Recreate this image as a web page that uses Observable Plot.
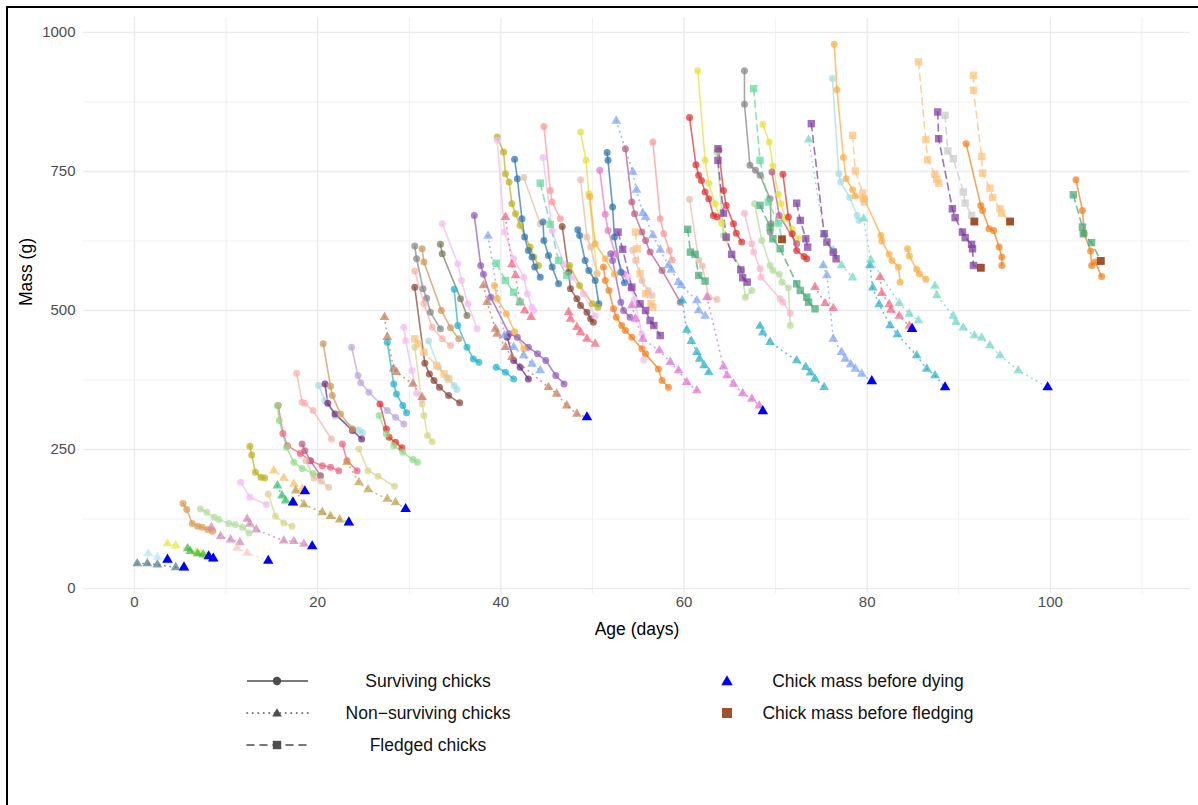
<!DOCTYPE html>
<html>
<head>
<meta charset="utf-8">
<script src="https://cdn.jsdelivr.net/npm/d3@7"></script>
<script src="https://cdn.jsdelivr.net/npm/@observablehq/plot@0.6"></script>
<style>
  html, body { margin: 0; padding: 0; background: #fff; overflow: hidden; }
  body { font-family: "Liberation Sans", Arial, Helvetica, sans-serif; width: 1198px; height: 805px; position: relative; }
  #frame { position: absolute; left: 6px; top: 6px; width: 1400px; height: 1000px; border-left: 2px solid #000; border-top: 2px solid #000; pointer-events: none; }
  #chart { position: absolute; left: 0; top: 0; }
  .key { position: absolute; }
  .label { position: absolute; width: 240px; text-align: center; font-size: 17.5px; line-height: 20px; color: #111; white-space: nowrap; }
</style>
</head>
<body>
<div id="chart"></div>
<div id="legend"></div>
<div id="frame"></div>
<script>
// Fasting bouts of each chick: [chick, [[age (days), mass (g)], ...]]
const survivingBouts = [
  ["sandy", [[5.3,153],[5.7,142],[6.3,117],[6.9,112],[7.4,110],[8.0,106],[8.5,103]]],
  ["paleGreen", [[7.2,143],[7.9,137],[8.7,128],[9.2,124],[10.3,117],[11.0,115],[11.8,110],[12.5,100]]],
  ["orchidPale", [[11.6,191],[12.6,164],[14.4,151]]],
  ["olive", [[12.6,256],[12.8,240],[13.2,209],[13.8,200],[14.2,199]]],
  ["khaki", [[14.6,170],[15.4,130],[16.3,118],[17.2,112]]],
  ["hotPink", [[15.7,329],[16.2,279],[16.7,257],[18.1,243],[19.2,230],[20.5,221],[21.4,218],[22.3,212]]],
  ["lightGreen", [[15.6,329],[15.8,302],[16.6,254],[17.4,227],[18.3,216],[19.5,207],[20.3,203]]],
  ["salmonPale", [[17.7,387],[18.3,335],[18.6,333],[19.5,320],[21.5,269]]],
  ["mauve", [[18.3,260],[18.6,248],[19.2,230],[20.3,203]]],
  ["beige", [[18.7,230],[19.6,199],[20.4,193],[21.2,182]]],
  ["lightCyan", [[20.1,365],[20.8,338],[21.9,310],[24.5,285],[24.9,280]]],
  ["darkPurple", [[20.8,368],[21.1,333],[21.9,314],[23.8,284],[24.8,269]]],
  ["tan", [[20.6,440],[21.4,364],[21.6,347],[22.5,314],[23.8,287]]],
  ["hotPink", [[22.7,260],[23.2,230],[24.3,212]]],
  ["lavender", [[23.7,434],[24.4,383],[24.7,370],[25.6,353],[27.6,320],[28.5,308],[29.4,296]]],
  ["khaki", [[24.5,251],[25.5,212],[26.6,202],[28.4,184]]],
  ["red", [[26.8,332],[27.5,287],[27.8,272],[28.5,263],[29.2,253]]],
  ["lightGreen", [[26.7,311],[27.5,278],[28.3,257],[29.3,245],[30.4,232],[30.9,227]]],
  ["cyan", [[27.6,443],[28.3,368],[28.6,350],[29.3,329],[29.7,316]]],
  ["orchidPale", [[29.4,470],[29.6,446],[30.3,392],[30.8,351],[31.4,340]]],
  ["khaki", [[30.6,434],[31.4,332],[31.6,311],[32.0,275],[32.5,264]]],
  ["brown", [[30.6,542],[31.7,405],[32.2,386],[32.7,374],[33.3,362],[34.3,347],[35.5,334]]],
  ["gray", [[30.6,616],[30.8,593],[31.5,539],[31.9,522],[32.3,497],[33.4,467]]],
  ["tan", [[31.4,611],[31.6,587],[33.5,500],[34.5,469],[35.4,449]]],
  ["salmonPale", [[30.6,571],[31.6,512],[32.5,470],[33.6,449],[34.5,437]]],
  ["lightCyan", [[32.1,445],[33.2,398],[34.1,380],[34.9,365],[35.2,358]]],
  ["oliveGray", [[33.4,619],[33.6,602],[35.6,521],[36.3,491]]],
  ["orchidPale", [[33.6,656],[35.3,584],[35.7,554],[36.4,512],[37.4,467]]],
  ["cyan", [[34.9,538],[35.3,473],[36.3,434],[37.0,413],[37.6,407]]],
  ["purple", [[37.1,671],[37.8,581],[38.1,565],[38.9,524],[40.9,458],[41.8,452],[43.0,434],[44.0,422],[44.9,410],[46.0,383],[46.9,368]]],
  ["cyan", [[39.5,398],[40.5,389],[41.4,377]]],
  ["darkPurple", [[40.7,452],[41.4,410],[42.1,398],[43.0,377]]],
  ["orange", [[39.3,545],[39.6,521],[40.6,494],[41.5,462],[42.5,431]]],
  ["olive", [[39.6,812],[40.3,785],[40.5,746],[40.9,731],[41.2,692],[41.6,674],[42.1,653],[43.2,614],[43.6,596],[44.1,581]]],
  ["steelBlue", [[41.5,772],[41.8,737],[42.3,665],[42.6,632],[43.0,608],[43.4,596],[43.7,578],[44.3,560]]],
  ["orchidPale", [[39.6,806],[40.4,641],[41.4,593],[42.5,560],[42.9,530],[43.4,506],[43.6,500]]],
  ["beige", [[42.5,739],[44.3,656]]],
  ["steelBlue", [[44.6,659],[44.7,626],[45.2,599],[45.6,578],[46.3,548]]],
  ["brown", [[46.7,651],[47.4,569],[47.6,539],[48.3,521],[48.7,509],[49.4,497],[49.8,485],[50.1,479]]],
  ["salmon", [[44.7,831],[45.4,716],[45.6,695],[46.5,665]]],
  ["orchidPale", [[44.6,775],[45.6,644],[46.9,583],[47.8,560],[49.0,530],[50.3,490]]],
  ["yellow", [[48.7,821],[49.3,770],[49.6,710],[50.5,566]]],
  ["beige", [[48.7,735],[49.4,632],[49.8,614],[50.5,566]]],
  ["steelBlue", [[48.4,645],[48.6,635],[49.2,590],[49.6,572],[50.3,554],[50.7,512]]],
  ["olive", [[47.5,581],[48.6,545],[50.0,512],[50.6,506]]],
  ["darkOrange", [[51.2,578],[51.4,554],[51.8,536],[52.3,503],[52.6,488],[53.2,473],[53.6,464],[54.3,452],[55.4,431],[55.8,422],[57.2,395],[57.6,374],[58.3,362]]],
  ["orange", [[49.7,705],[50.3,620],[51.4,593],[52.4,565]]],
  ["orchid", [[50.8,752],[51.4,673],[51.7,644],[52.5,602],[53.4,566],[54.2,540]]],
  ["orchidPale", [[53.9,560],[54.6,520],[55.4,458],[55.6,411]]],
  ["steelBlue", [[51.6,784],[51.7,770],[52.2,686],[52.4,632],[53.1,569],[53.5,550]]],
  ["purple", [[52.0,602],[52.2,590],[53.1,515],[53.4,500],[54.1,488]]],
  ["beige", [[54.4,609],[54.7,590],[55.4,554],[56.1,536],[56.5,527]]],
  ["mauve", [[53.6,791],[54.3,695],[54.6,674],[55.4,641],[55.8,626],[56.3,605],[57.6,572],[59.6,515]]],
  ["salmon", [[56.6,803],[57.4,665],[57.8,638],[58.4,608],[58.7,591]]],
  ["beige", [[60.6,700],[61.6,591],[62.0,580],[62.7,524],[63.6,520]]],
  ["red", [[60.6,847],[61.3,762],[61.6,743],[61.9,734],[62.3,713],[62.7,701],[63.2,671],[63.6,668]]],
  ["yellow", [[61.5,931],[62.3,770],[62.7,729],[63.4,692],[64.1,657],[64.6,629]]],
  ["red", [[63.8,788],[64.3,716],[64.6,689],[65.4,656],[65.7,639],[66.3,623]]],
  ["paleGreen", [[63.6,785],[64.3,635],[66.3,572],[66.7,524],[67.4,536]]],
  ["gray", [[66.6,931],[66.6,871],[67.2,761],[67.8,752],[68.3,743],[69.4,701],[69.5,656],[69.4,641]]],
  ["pink", [[66.6,675],[67.4,620],[67.6,605],[68.3,575],[68.4,560],[70.5,521],[70.8,515],[71.6,495]]],
  ["paleGreen", [[67.7,692],[68.5,626],[69.4,581],[69.7,572],[70.4,565],[70.7,551],[71.4,541],[71.6,473]]],
  ["yellow", [[68.6,835],[69.3,803],[69.7,760],[70.3,709],[70.6,692],[71.1,665],[71.8,646],[72.5,629]]],
  ["red", [[70.8,745],[71.4,668],[71.8,638],[72.3,608],[73.1,597],[73.4,593]]],
  ["mauve", [[69.6,749],[70.4,671],[72.3,620]]],
  ["lightCyan", [[76.2,917],[76.9,746],[77.1,731],[78.1,703],[78.9,671],[79.1,662]]],
  ["orange", [[76.4,979],[76.7,897],[77.4,775],[77.7,737],[78.4,717],[78.7,706],[79.7,700],[81.5,635],[81.6,625],[82.4,601],[82.7,590],[83.4,578],[83.6,551]]],
  ["orange", [[84.4,611],[84.6,598],[85.4,574],[85.7,566],[86.4,556]]],
  ["darkOrange", [[90.8,800],[92.4,689],[92.6,680],[93.3,647],[93.8,644],[94.4,614],[94.7,596],[94.7,581]]],
  ["darkOrange", [[102.8,735],[103.5,680],[103.7,638],[104.4,607],[104.5,581],[104.9,587],[105.6,561]]]
];

const nonSurvivingBouts = [
  ["slate", [[0.3,45],[1.4,45],[2.5,43],[4.5,38],[5.4,38]]],
  ["iceBlue", [[1.5,63],[2.5,56],[3.6,52]]],
  ["lemon", [[3.6,81],[4.5,77],[6.7,65],[7.2,63],[7.9,59],[8.1,58]]],
  ["lime", [[5.8,72],[6.1,67],[6.9,63],[7.5,61],[8.6,54]]],
  ["rose", [[8.4,110],[9.4,94],[10.5,88],[11.5,83]]],
  ["rose", [[12.3,125],[12.6,116],[13.3,106],[16.3,86],[17.4,85],[18.5,80],[19.4,76]]],
  ["mistyRose", [[11.2,73],[12.3,64],[14.6,50]]],
  ["apricot", [[15.2,212],[16.3,199],[17.4,188],[18.3,179],[18.6,175]]],
  ["jade", [[15.6,185],[16.1,167],[16.5,158],[17.3,155]]],
  ["ochre", [[17.6,176],[18.5,151],[20.5,137],[21.4,130],[22.4,124],[23.4,119]]],
  ["gold", [[23.2,227],[24.5,191],[25.5,178],[27.6,161],[28.5,155],[29.6,143]]],
  ["sienna", [[27.3,488],[27.6,452],[28.3,395],[28.6,389],[30.4,368],[31.4,344]]],
  ["sienna", [[38.1,545],[38.5,515],[39.4,467],[39.6,458],[40.5,434],[41.2,416],[45.2,362],[46.1,350],[47.2,329],[48.3,314],[49.4,308]]],
  ["cornflower", [[38.6,634],[40.4,455],[41.4,434],[42.5,419],[43.4,404],[44.3,392]]],
  ["cornflower", [[52.6,841],[54.4,749],[54.8,717],[55.5,675],[55.8,668],[56.6,635],[57.4,609],[58.3,581],[58.6,573],[59.4,551],[59.7,545],[61.4,518],[61.6,500],[62.3,490]]],
  ["cornflower", [[75.2,581],[75.6,563],[76.3,449],[77.2,425],[77.6,413],[78.2,403],[78.7,395],[79.4,386],[80.5,373]]],
  ["redPink", [[40.5,668],[41.2,583],[41.6,563],[42.1,515],[42.6,500],[43.3,488]]],
  ["redPink", [[47.4,497],[47.6,485],[48.3,470],[48.7,461],[49.4,449],[50.3,440]]],
  ["redPink", [[74.3,542],[75.4,513],[76.3,504]]],
  ["redPink", [[81.4,560],[81.6,531],[82.4,511],[82.6,501],[83.5,490],[84.6,472],[84.9,467]]],
  ["magenta", [[54.3,509],[54.7,485],[55.5,449],[57.3,428],[58.5,407],[59.4,392],[60.3,371],[61.4,356]]],
  ["magenta", [[62.5,524],[64.3,399],[64.7,383],[65.4,368],[66.4,351],[67.4,341],[68.2,329],[68.6,319]]],
  ["teal", [[59.8,518],[60.3,465],[60.8,445],[61.4,425],[61.7,413],[62.2,401],[62.7,389]]],
  ["teal", [[68.3,472],[68.6,460],[69.4,443],[72.3,410],[73.3,398],[73.8,388],[74.3,377],[75.3,362]]],
  ["teal", [[80.3,581],[80.6,541],[81.3,511],[82.5,473],[83.3,457],[85.4,419],[86.5,395],[87.4,383],[88.5,362]]],
  ["aqua", [[73.6,807],[75.3,637],[76.3,608],[77.2,581],[78.4,559]]],
  ["aqua", [[79.6,665],[80.4,591],[83.5,513],[84.6,494],[85.6,482]]],
  ["aqua", [[87.4,544],[87.6,527],[89.4,490],[89.7,479],[90.5,469],[91.7,455],[92.5,451],[93.4,437],[94.5,419],[96.5,392],[99.7,362]]]
];

const fledgedBouts = [
  ["apricotSq", [[30.6,449],[31.0,440],[31.6,425],[33.0,401],[33.8,386],[34.3,377]]],
  ["apricotSq", [[54.7,641],[54.9,611],[55.2,566],[55.8,530],[56.4,512],[56.6,506]]],
  ["apricotSq", [[78.4,815],[78.7,751],[79.5,711],[79.6,701],[79.7,695]]],
  ["apricotSq", [[85.6,947],[86.4,807],[86.6,771],[87.4,745],[87.6,736],[87.8,729]]],
  ["apricotSq", [[91.6,923],[91.6,896],[92.5,777],[92.6,747],[93.4,720],[93.7,703],[94.5,683],[94.7,675],[95.6,660]]],
  ["mint", [[39.5,585],[40.5,554],[41.4,533],[42.1,515]]],
  ["mint", [[44.3,729],[45.4,655],[46.3,590],[47.2,563]]],
  ["mint", [[67.6,899],[68.3,770],[69.2,695],[70.3,657],[70.7,628]]],
  ["seaGreen", [[60.4,646],[60.7,605],[61.2,601],[61.6,563],[62.3,553]]],
  ["seaGreen", [[68.3,689],[69.4,650],[69.7,629],[70.5,611],[72.3,548],[72.7,536],[73.4,524],[73.6,515],[74.3,503]]],
  ["seaGreen", [[102.5,708],[103.5,650],[103.6,638],[104.5,622],[105.5,589]]],
  ["purpleSq", [[52.8,641],[53.3,610],[54.3,542],[55.2,512],[55.8,500],[56.3,482],[56.7,473],[57.4,455]]],
  ["purpleSq", [[63.7,791],[63.7,770],[64.3,675],[64.6,632],[65.2,601],[66.2,573],[66.4,559],[66.9,551]]],
  ["purpleSq", [[72.3,693],[72.7,662],[73.3,629],[73.5,614]]],
  ["purpleSq", [[73.9,836],[75.3,638],[75.6,623],[76.3,605],[76.6,593]]],
  ["purpleSq", [[87.7,857],[87.8,809],[89.3,683],[89.6,667],[90.4,641],[90.7,631],[91.4,619],[91.5,611],[91.6,581],[92.4,577]]],
  ["silver", [[88.5,851],[88.8,787],[89.4,773],[90.5,713],[90.7,693],[91.4,671],[91.7,660]]]
];

// Axis ticks and grid positions
const ageTicks = [0, 20, 40, 60, 80, 100];
const ageMinorGrid = [10, 30, 50, 70, 90, 110];
const massTicks = [0, 250, 500, 750, 1000];
const massMinorGrid = [125, 375, 625, 875];

// One colour per chick
const chickColors = {
  sandy: "#d99a55", paleGreen: "#b3dc9c", orchidPale: "#efbdf0", olive: "#bdb220",
  khaki: "#d6d68a", hotPink: "#f3607d", lightGreen: "#8fdc88", salmonPale: "#f5b2aa",
  mauve: "#b85c88", beige: "#e6bcaa", lightCyan: "#a6dbe6", darkPurple: "#6e2a7a",
  tan: "#c9995a", lavender: "#bda6d8", red: "#de3030", cyan: "#1fb3cc", brown: "#874434",
  gray: "#858585", oliveGray: "#77775a", purple: "#8f5cb8", orange: "#f8ae45",
  steelBlue: "#2c73b0", salmon: "#f89a96", yellow: "#e4e03c", darkOrange: "#f2801c",
  orchid: "#e07cc8", pink: "#f6b4cc",
  slate: "#4f7c85", iceBlue: "#b4e6f8", lemon: "#e6e64a", lime: "#3cb83c", rose: "#d088b4",
  mistyRose: "#f2cac4", apricot: "#f9bf6a", jade: "#2fc068", ochre: "#b8983e", gold: "#bba24a",
  sienna: "#c27a5a", cornflower: "#7ca4f2", redPink: "#f3647e", magenta: "#df70d2",
  teal: "#27aec6", aqua: "#70d8c4",
  apricotSq: "#fbc07c", mint: "#5fd89a", seaGreen: "#43a873", purpleSq: "#7d3c9e", silver: "#c9c9c9"
};

function toRows(bouts, fate) {
  const rows = [];
  bouts.forEach(([chick, pts], i) => {
    for (const [age, mass] of pts) rows.push({fate, chick, bout: fate + i, age, mass});
  });
  return rows;
}

// Last weighing of each chick (latest age over all its bouts)
function lastWeighings(bouts) {
  const last = new Map();
  for (const [chick, pts] of bouts) {
    for (const [age, mass] of pts) {
      const cur = last.get(chick);
      if (!cur || age >= cur.age) last.set(chick, {chick, age, mass});
    }
  }
  return [...last.values()];
}

const survRows = toRows(survivingBouts, "S");
const deadRows = toRows(nonSurvivingBouts, "N");
const fledRows = toRows(fledgedBouts, "F");
const beforeDying = lastWeighings(nonSurvivingBouts);
const beforeFledging = lastWeighings(fledgedBouts);

const col = d => chickColors[d.chick];
const alpha = 0.72;

const chart = Plot.plot({
  width: 1198,
  height: 650,
  marginLeft: 83,
  marginRight: 8,
  marginTop: 17.5,
  marginBottom: 56.4,
  x: {domain: [-5.57, 115.3], axis: null},
  y: {domain: [-10, 1026], axis: null},
  color: {type: "identity"},
  style: {fontFamily: "'Liberation Sans', Arial, Helvetica, sans-serif", background: "transparent", overflow: "visible"},
  marks: [
    Plot.ruleX(ageMinorGrid, {stroke: "#eeeeee", strokeWidth: 0.9}),
    Plot.ruleY(massMinorGrid, {stroke: "#eeeeee", strokeWidth: 0.9}),
    Plot.ruleX(ageTicks, {stroke: "#ebebeb", strokeWidth: 1.3}),
    Plot.ruleY(massTicks, {stroke: "#ebebeb", strokeWidth: 1.3}),

    Plot.text(ageTicks, {x: d => d, frameAnchor: "bottom", dy: 13, text: d => String(d), fontSize: 15, fill: "#4d4d4d"}),
    Plot.text(massTicks, {y: d => d, frameAnchor: "left", dx: -8, textAnchor: "end", text: d => String(d), fontSize: 15, fill: "#4d4d4d"}),
    Plot.text(["Age (days)"], {frameAnchor: "bottom", dy: 41, text: d => d, fontSize: 17.5, fill: "#000"}),
    Plot.text(["Mass (g)"], {frameAnchor: "left", dx: -57, rotate: -90, text: d => d, fontSize: 17.5, fill: "#000"}),

    Plot.line(survRows, {x: "age", y: "mass", z: "bout", stroke: col, strokeWidth: 1.6, strokeOpacity: alpha}),
    Plot.line(deadRows, {x: "age", y: "mass", z: "bout", stroke: col, strokeWidth: 1.7, strokeOpacity: alpha, strokeDasharray: "0.5,5", strokeLinecap: "round"}),
    Plot.line(fledRows, {x: "age", y: "mass", z: "bout", stroke: col, strokeWidth: 1.6, strokeOpacity: alpha, strokeDasharray: "7,5"}),

    Plot.dot(survRows, {x: "age", y: "mass", fill: col, r: 3.5, symbol: "circle", fillOpacity: alpha}),
    Plot.dot(deadRows, {x: "age", y: "mass", fill: col, r: 3.6, symbol: "triangle", fillOpacity: alpha}),
    Plot.dot(fledRows, {x: "age", y: "mass", fill: col, r: 4.2, symbol: "square", fillOpacity: alpha}),

    Plot.dot(beforeDying, {x: "age", y: "mass", fill: "#0000ff", r: 3.9, symbol: "triangle"}),
    Plot.dot(beforeFledging, {x: "age", y: "mass", fill: "#a0522d", r: 4.4, symbol: "square"})
  ]
});
document.getElementById("chart").appendChild(chart);

// Legend below the panel
const legend = document.getElementById("legend");
const ink = "#4d4d4d";
const keys = [
  {y: 681, label: "Surviving chicks", dash: null, shape: "circle"},
  {y: 713, label: "Non\u2212surviving chicks", dash: "0.5,5", shape: "triangle"},
  {y: 745, label: "Fledged chicks", dash: "7,6", shape: "square"}
];
function shapeSvg(shape, cx, cy, s, fill) {
  if (shape === "circle") return `<circle cx="${cx}" cy="${cy}" r="${s}" fill="${fill}"/>`;
  if (shape === "triangle") return `<path d="M${cx},${cy - s * 1.15}L${cx + s * 1.15},${cy + s * 0.85}L${cx - s * 1.15},${cy + s * 0.85}Z" fill="${fill}"/>`;
  return `<rect x="${cx - s}" y="${cy - s}" width="${2 * s}" height="${2 * s}" fill="${fill}"/>`;
}
for (const k of keys) {
  const sw = document.createElement("div");
  sw.className = "key";
  sw.style.left = "245px";
  sw.style.top = (k.y - 10) + "px";
  sw.innerHTML = `<svg width="66" height="20"><line x1="2" x2="63" y1="10" y2="10" stroke="${ink}" stroke-width="1.6" ${k.dash ? `stroke-dasharray="${k.dash}" stroke-linecap="round"` : ""}/>${shapeSvg(k.shape, 32, 10, 4.2, ink)}</svg>`;
  legend.appendChild(sw);
  const lb = document.createElement("div");
  lb.className = "label";
  lb.style.left = (428 - 120) + "px";
  lb.style.top = (k.y - 10) + "px";
  lb.textContent = k.label;
  legend.appendChild(lb);
}
const ends = [
  {y: 681, label: "Chick mass before dying", shape: "triangle", fill: "#0000ff"},
  {y: 713, label: "Chick mass before fledging", shape: "square", fill: "#a0522d"}
];
for (const k of ends) {
  const sw = document.createElement("div");
  sw.className = "key";
  sw.style.left = "717px";
  sw.style.top = (k.y - 10) + "px";
  sw.innerHTML = `<svg width="20" height="20">${shapeSvg(k.shape, 10, 10, 5, k.fill)}</svg>`;
  legend.appendChild(sw);
  const lb = document.createElement("div");
  lb.className = "label";
  lb.style.left = (868 - 120) + "px";
  lb.style.top = (k.y - 10) + "px";
  lb.textContent = k.label;
  legend.appendChild(lb);
}
</script>
</body>
</html>
